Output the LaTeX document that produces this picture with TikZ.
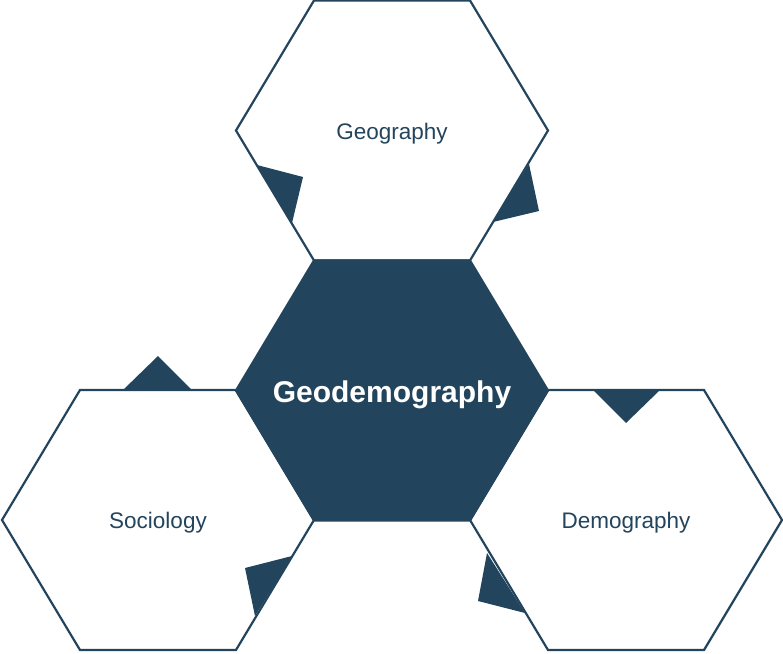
\documentclass[tikz,border=0pt]{standalone}
\usepackage{fontspec}
\setmainfont{Liberation Sans}
\definecolor{navy}{HTML}{23445D}
\begin{document}
\begin{tikzpicture}[x=1pt,y=-1pt,
  hexline/.style={draw=navy,line width=2.2pt,line join=miter},
  lbl/.style={text=navy,font=\fontsize{22.5}{27}\selectfont,inner sep=0pt},
  mainlbl/.style={text=white,font=\fontsize{30}{36}\selectfont\bfseries,inner sep=0pt},
  tri/.style={fill=navy}]
\useasboundingbox (0,0) rectangle (783,653);
\newcommand\hexat[3]{%
  \path[#3] (#1-156,#2) -- (#1-78,#2-130) -- (#1+78,#2-130) -- (#1+156,#2)
    -- (#1+78,#2+130) -- (#1-78,#2+130) -- cycle;}
% hexagons
\hexat{392}{130.5}{hexline,fill=white}
\hexat{158}{520}{hexline,fill=white}
\hexat{626}{520}{hexline,fill=white}
\hexat{392}{390.5}{hexline,fill=navy}
% small triangles
\fill[tri] (257,165) -- (303,177) -- (292,223) -- cycle;
\fill[tri] (529,164) -- (539,211) -- (493,222) -- cycle;
\fill[tri] (123,390) -- (158,356) -- (192,390) -- cycle;
\fill[tri] (593,390) -- (626,423) -- (660,390) -- cycle;
\fill[tri] (292,556) -- (245,568) -- (255,616) -- cycle;
\fill[tri] (487,553) -- (478,601) -- (525,613) -- cycle;
% labels
\node[lbl] (geo) at (392,133.5) {Geography};
\node[lbl] (soc) at (158,522.5) {Sociology};
\node[lbl] (dem) at (626,522.5) {Demography};
\node[mainlbl] (main) at (392,395) {Geodemography};
\end{tikzpicture}
\end{document}
